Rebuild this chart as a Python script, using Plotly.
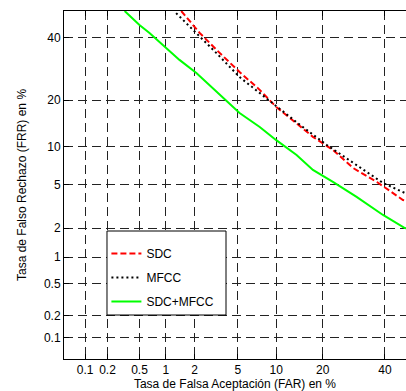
from statistics import NormalDist
import plotly.graph_objects as go

nd = NormalDist()
def pr(p):
    return [nd.inv_cdf(v / 100.0) for v in p]

# DET curves: FAR (%) and FRR (%)
sdc_far = [1.46, 2.24, 3.46, 5.17, 7.52, 10.0, 13.0, 17.5, 22.8, 28.9, 37.1, 46.7, 50.0]
sdc_frr = [50.0, 41.8, 34.6, 28.2, 22.8, 18.2, 15.1, 11.7, 9.45, 6.9, 5.3, 3.7, 3.5]

mfcc_far = [1.29, 2.08, 3.22, 5.17, 7.52, 10.0, 14.5, 21.0, 28.9, 39.3, 47.4, 50.0]
mfcc_frr = [49.2, 41.8, 34.6, 26.6, 21.9, 18.2, 14.1, 10.3, 7.55, 5.2, 4.27, 4.1]

both_far = [0.33, 0.5, 0.655, 1.01, 1.40, 2.08, 2.98, 3.97, 5.17, 7.52, 10.0, 13.8, 17.5, 22.8, 30.1, 39.3, 47.4, 50.0]
both_frr = [50.0, 44.7, 41.8, 36.3, 32.2, 27.9, 23.3, 20.0, 16.75, 13.65, 11.1, 8.68, 6.65, 5.3, 3.94, 2.69, 2.01, 1.95]

tick_vals = [0.1, 0.2, 0.5, 1, 2, 5, 10, 20, 40]
tick_text = ["0.1", "0.2", "0.5", "1", "2", "5", "10", "20", "40"]

fig = go.Figure()
fig.add_trace(go.Scatter(x=pr(sdc_far), y=pr(sdc_frr), mode="lines", name="SDC", legendgroup="a",
                         line=dict(color="#ff0000", width=2, dash="6px,3px")))
fig.add_trace(go.Scatter(x=pr(mfcc_far), y=pr(mfcc_frr), mode="lines", name="MFCC", legendgroup="b",
                         line=dict(color="#000000", width=2, dash="2px,3px")))
fig.add_trace(go.Scatter(x=pr(both_far), y=pr(both_frr), mode="lines", name="SDC+MFCC", legendgroup="c",
                         line=dict(color="#00ff00", width=2)))

font = dict(family="Liberation Sans, Arial, sans-serif", size=12, color="#000")
axis_common = dict(
    tickvals=pr(tick_vals), ticktext=tick_text,
    showgrid=True, gridcolor="#222", gridwidth=1, griddash="9px,5px",
    zeroline=False, showline=True, linecolor="#000", linewidth=1,
    ticks="inside", ticklen=5, tickcolor="#000", tickfont=font,
)
fig.update_xaxes(**axis_common, range=[-3.29, -0.054], mirror="ticks",
                 title=dict(text="Tasa de Falsa Aceptación (FAR) en %", font=font, standoff=0))
fig.update_yaxes(**axis_common, range=[-3.29, 0.0], mirror=False,
                 title=dict(text="Tasa de Falso Rechazo (FRR) en %", font=font, standoff=14))

# legend frame
fig.add_shape(type="rect", xref="paper", yref="paper",
              x0=0.1257, x1=0.4737, y0=0.1264, y1=0.3678,
              line=dict(color="#000", width=1), fillcolor="white", layer="above")

fig.update_layout(
    width=406, height=391,
    margin=dict(l=64, r=0, t=11, b=32),
    paper_bgcolor="white", plot_bgcolor="white",
    font=font,
    showlegend=True,
    legend=dict(x=0.124, y=0.345, xanchor="left", yanchor="top",
                bgcolor="rgba(0,0,0,0)", borderwidth=0,
                font=font, itemwidth=30, tracegroupgap=5),
)
fig.write_html("out.html")
